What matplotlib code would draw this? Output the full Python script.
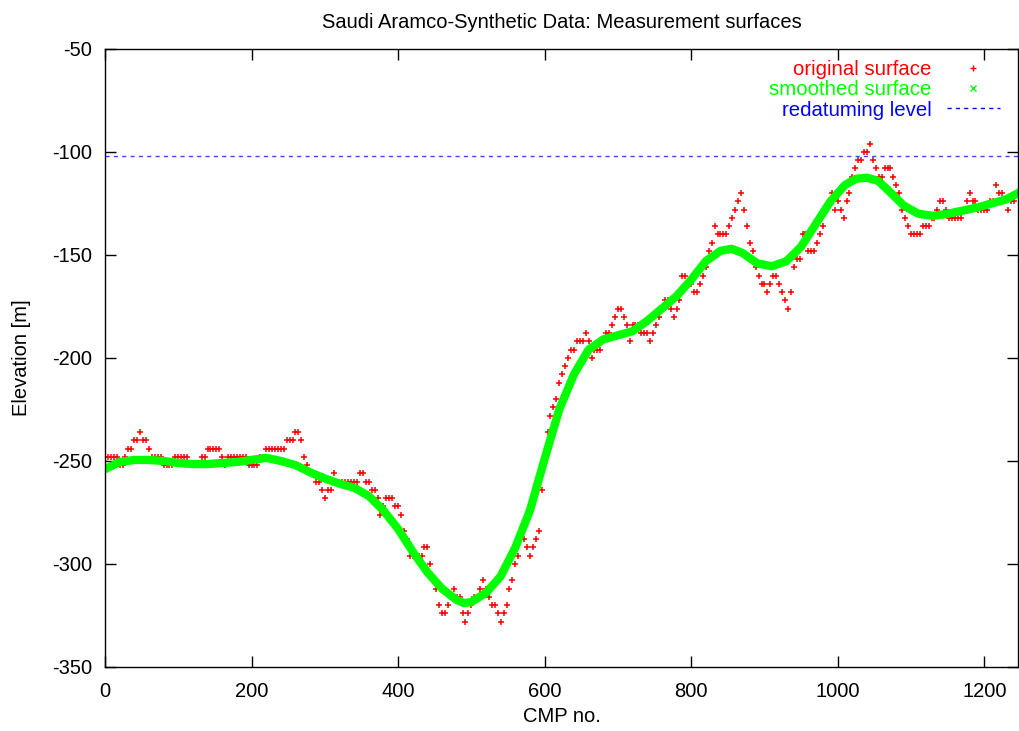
import numpy as np
import matplotlib
matplotlib.use('Agg')
import matplotlib.pyplot as plt
from matplotlib.lines import Line2D

plt.rcParams['font.family'] = ['Liberation Sans', 'DejaVu Sans']
plt.rcParams['axes.unicode_minus'] = False

# Superficie original (cada 4 CMP)
orig_cmp = list(range(0, 1248, 4))
orig_elev = [
    -248, -248, -248, -248, -248, -252, -252, -248, -244, -244,   # 0-36
    -240, -240, -236, -240, -240, -244, -248, -248, -248, -248,   # 40-76
    -252, -252, -252, -252, -248, -248, -248, -248, -248, -252,   # 80-116
    -252, -252, -252, -248, -248, -244, -244, -244, -244, -244,   # 120-156
    -248, -252, -248, -248, -248, -248, -248, -248, -248, -252,   # 160-196
    -252, -252, -252, -248, -248, -244, -244, -244, -244, -244,   # 200-236
    -244, -244, -240, -240, -240, -236, -236, -240, -248, -252,   # 240-276
    -256, -256, -260, -260, -264, -268, -264, -264, -256, -260,   # 280-316
    -260, -260, -260, -260, -260, -260, -260, -256, -256, -260,   # 320-356
    -260, -264, -264, -268, -276, -272, -268, -268, -268, -272,   # 360-396
    -272, -276, -284, -288, -296, -296, -296, -296, -296, -292,   # 400-436
    -292, -300, -308, -312, -320, -324, -324, -320, -316, -312,   # 440-476
    -316, -316, -324, -328, -324, -320, -316, -316, -312, -308,   # 480-516
    -312, -316, -320, -320, -324, -328, -324, -320, -312, -308,   # 520-556
    -300, -296, -288, -288, -292, -296, -292, -288, -284, -264,   # 560-596
    -248, -236, -228, -224, -220, -212, -208, -204, -200, -196,   # 600-636
    -196, -192, -192, -192, -188, -192, -200, -196, -196, -196,   # 640-676
    -192, -188, -188, -184, -180, -176, -176, -180, -184, -192,   # 680-716
    -184, -184, -184, -188, -188, -188, -192, -188, -184, -180,   # 720-756
    -176, -172, -172, -176, -180, -176, -172, -160, -160, -164,   # 760-796
    -164, -168, -168, -164, -160, -156, -148, -144, -136, -140,   # 800-836
    -140, -140, -140, -136, -132, -128, -124, -120, -128, -136,   # 840-876
    -144, -148, -156, -160, -164, -164, -168, -164, -160, -160,   # 880-916
    -164, -168, -172, -176, -168, -156, -152, -152, -140, -140,   # 920-956
    -148, -148, -148, -144, -140, -136, -128, -124, -120, -128,   # 960-996
    -124, -128, -132, -124, -120, -112, -108, -104, -104, -100,   # 1000-1036
    -100, -96, -104, -108, -112, -112, -108, -108, -108, -112,    # 1040-1076
    -116, -120, -128, -132, -136, -140, -140, -140, -140, -136,   # 1080-1116
    -136, -136, -132, -132, -128, -124, -124, -128, -132, -132,   # 1120-1156
    -132, -132, -132, -128, -124, -120, -124, -124, -128, -128,   # 1160-1196
    -128, -128, -124, -124, -116, -120, -120, -124, -128, -124,   # 1200-1236
    -124, -120,                                                   # 1240-1244
]

# Superficie suavizada
smooth_cmp = [0, 20, 40, 60, 80, 100, 120, 140, 160, 180, 200, 220, 240, 260,
              280, 300, 320, 340, 360, 380, 400, 420, 440, 460, 480, 490, 500,
              520, 540, 560, 580, 600, 620, 640, 660, 680, 700, 720, 740, 760,
              780, 800, 820, 840, 855, 870, 890, 910, 930, 950, 970, 990, 1010,
              1025, 1040, 1055, 1070, 1090, 1110, 1130, 1150, 1170, 1190, 1210,
              1230, 1246]
smooth_elev = [-254, -250.5, -249.5, -249.5, -250, -251, -251.5, -251.5, -251,
               -250.5, -249.5, -248.5, -250, -252, -255.5, -258.5, -261, -263,
               -267, -274, -283, -294, -304, -312, -317.5, -319, -318.5, -314,
               -306, -292, -274, -249, -225, -208, -196, -191, -189, -187, -182,
               -176, -170, -162, -153, -148, -147, -149, -154, -155.5, -153,
               -146, -135, -124, -116, -113, -112.5, -114, -119, -126, -130,
               -131, -130, -128.5, -127, -125, -123, -120]

redatum_level = -102

fig = plt.figure(figsize=(10.19, 7.31), dpi=100)
ax = fig.add_axes([0.103, 0.0876, 0.896, 0.8454])

ax.plot(orig_cmp, orig_elev, ls='none', marker='+', ms=5, mew=1.1, color='red')
ax.plot(smooth_cmp, smooth_elev, color='#00ff00', lw=6, solid_joinstyle='round')
ax.axhline(redatum_level, color='#4444ff', lw=1, dashes=(3, 3))

ax.set_xlim(0, 1246)
ax.set_ylim(-350, -50)
ax.set_xticks(range(0, 1201, 200))
ax.set_yticks(range(-350, -49, 50))
ax.tick_params(direction='in', length=8, width=1, top=True, right=True,
               labelsize=14.5)
ax.tick_params(axis='x', pad=11)
ax.tick_params(axis='y', pad=9)
for s in ax.spines.values():
    s.set_linewidth(1)

ax.set_xlabel('CMP no.', fontsize=14.5, labelpad=4)
ax.set_ylabel('Elevation [m]', fontsize=14.5, labelpad=15)
ax.set_title('Saudi Aramco-Synthetic Data: Measurement surfaces', fontsize=14.5, pad=15)

handles = [
    Line2D([], [], ls='none', marker='+', ms=5, mew=1, color='red'),
    Line2D([], [], ls='none', marker='x', ms=4, mew=1, color='#00ff00'),
    Line2D([], [], color='blue', lw=1, dashes=(3, 3)),
]
labels = ['original surface', 'smoothed surface', 'redatuming level']
ax.legend(handles, labels, loc='upper right', frameon=False, markerfirst=False,
          fontsize=14.7, labelcolor=['red', '#00ff00', 'blue'],
          handlelength=2.6, handletextpad=0.75, labelspacing=0.06,
          borderaxespad=0, borderpad=0, bbox_to_anchor=(0.980, 0.982))

fig.savefig('out.png', dpi=100)
